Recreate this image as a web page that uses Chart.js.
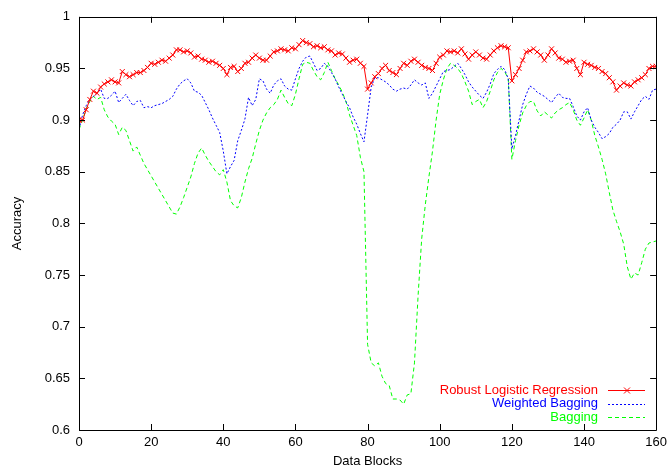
<!DOCTYPE html>
<html>
<head>
<meta charset="utf-8">
<script src="https://cdn.jsdelivr.net/npm/chart.js@4.4.1/dist/chart.umd.min.js"></script>
<style>
  html, body { margin: 0; padding: 0; background: #fff; }
  #wrap { width: 672px; height: 472px; position: relative; }
</style>
</head>
<body>
<div id="wrap"><canvas id="acc"></canvas></div>
<script>
// accuracy per data block (0..160)
var robustLR = [
  0.900, 0.900, 0.910, 0.920, 0.928, 0.926, 0.932, 0.935, 0.937, 0.939,
  0.937, 0.936, 0.947, 0.944, 0.942, 0.944, 0.946, 0.946, 0.948, 0.951,
  0.955, 0.954, 0.956, 0.958, 0.957, 0.960, 0.963, 0.968, 0.968, 0.966,
  0.967, 0.965, 0.961, 0.962, 0.959, 0.958, 0.956, 0.957, 0.955, 0.953,
  0.950, 0.944, 0.951, 0.952, 0.947, 0.950, 0.955, 0.956, 0.960, 0.963,
  0.960, 0.958, 0.958, 0.962, 0.966, 0.967, 0.969, 0.968, 0.967, 0.970,
  0.969, 0.973, 0.977, 0.975, 0.974, 0.971, 0.972, 0.970, 0.971, 0.968,
  0.967, 0.963, 0.965, 0.964, 0.960, 0.956, 0.958, 0.959, 0.955, 0.952,
  0.930, 0.936, 0.942, 0.945, 0.950, 0.953, 0.948, 0.946, 0.944, 0.950,
  0.955, 0.953, 0.957, 0.959, 0.956, 0.953, 0.951, 0.950, 0.948, 0.955,
  0.961, 0.963, 0.967, 0.966, 0.967, 0.965, 0.969, 0.964, 0.959, 0.963,
  0.966, 0.963, 0.960, 0.959, 0.963, 0.967, 0.970, 0.972, 0.971, 0.970,
  0.938, 0.944, 0.950, 0.958, 0.966, 0.967, 0.969, 0.966, 0.963, 0.958,
  0.963, 0.969, 0.965, 0.960, 0.959, 0.956, 0.957, 0.958, 0.950, 0.944,
  0.956, 0.954, 0.953, 0.951, 0.950, 0.947, 0.945, 0.941, 0.937, 0.929,
  0.933, 0.936, 0.934, 0.933, 0.937, 0.939, 0.941, 0.944, 0.950, 0.952,
  0.952
];
var weightedBagging = [
  0.891, 0.905, 0.914, 0.920, 0.923, 0.926, 0.930, 0.921, 0.921, 0.924,
  0.928, 0.917, 0.921, 0.925, 0.919, 0.914, 0.918, 0.919, 0.912, 0.913,
  0.912, 0.914, 0.915, 0.916, 0.918, 0.920, 0.923, 0.930, 0.935, 0.938,
  0.940, 0.936, 0.928, 0.927, 0.924, 0.917, 0.910, 0.902, 0.895, 0.888,
  0.870, 0.848, 0.855, 0.861, 0.880, 0.890, 0.901, 0.922, 0.914, 0.920,
  0.940, 0.938, 0.930, 0.926, 0.934, 0.938, 0.940, 0.933, 0.930, 0.929,
  0.940, 0.950, 0.957, 0.961, 0.962, 0.955, 0.948, 0.950, 0.955, 0.952,
  0.946, 0.940, 0.932, 0.925, 0.918, 0.912, 0.903, 0.896, 0.887, 0.879,
  0.905, 0.932, 0.941, 0.941, 0.939, 0.937, 0.934, 0.930, 0.928, 0.930,
  0.931, 0.930, 0.934, 0.939, 0.936, 0.934, 0.936, 0.921, 0.926, 0.933,
  0.940, 0.947, 0.948, 0.949, 0.952, 0.955, 0.950, 0.944, 0.937, 0.932,
  0.928, 0.924, 0.921, 0.927, 0.935, 0.945, 0.949, 0.952, 0.949, 0.940,
  0.872, 0.885, 0.900, 0.915, 0.925, 0.933, 0.931, 0.927, 0.925, 0.923,
  0.920, 0.917, 0.922, 0.926, 0.922, 0.921, 0.921, 0.913, 0.904, 0.900,
  0.908, 0.912, 0.900, 0.893, 0.888, 0.882, 0.884, 0.887, 0.893, 0.896,
  0.900, 0.908, 0.908, 0.901, 0.908, 0.914, 0.920, 0.923, 0.920, 0.929,
  0.930
];
var bagging = [
  0.891, 0.900, 0.911, 0.918, 0.923, 0.920, 0.922, 0.910, 0.903, 0.899,
  0.896, 0.886, 0.893, 0.890, 0.880, 0.870, 0.874, 0.866, 0.858, 0.852,
  0.846, 0.840, 0.834, 0.828, 0.822, 0.816, 0.810, 0.809, 0.816, 0.825,
  0.835, 0.845, 0.858, 0.868, 0.873, 0.866, 0.860, 0.855, 0.850, 0.847,
  0.852, 0.840, 0.822, 0.817, 0.815, 0.825, 0.840, 0.853, 0.863, 0.877,
  0.890, 0.900, 0.907, 0.912, 0.915, 0.920, 0.929, 0.922, 0.916, 0.914,
  0.925, 0.940, 0.954, 0.956, 0.955, 0.948, 0.942, 0.939, 0.946, 0.956,
  0.948, 0.940, 0.934, 0.927, 0.918, 0.905, 0.895, 0.885, 0.864, 0.850,
  0.683, 0.665, 0.662, 0.665, 0.652, 0.645, 0.643, 0.630, 0.630, 0.629,
  0.625, 0.634, 0.635, 0.665, 0.730, 0.785, 0.818, 0.845, 0.870, 0.900,
  0.925, 0.939, 0.950, 0.955, 0.953, 0.950, 0.945, 0.937, 0.928, 0.915,
  0.918, 0.920, 0.912, 0.918, 0.928, 0.939, 0.946, 0.950, 0.947, 0.940,
  0.862, 0.880, 0.895, 0.907, 0.914, 0.918, 0.918, 0.909, 0.904, 0.908,
  0.905, 0.902, 0.907, 0.910, 0.912, 0.915, 0.917, 0.910, 0.900, 0.895,
  0.902, 0.910, 0.900, 0.885, 0.874, 0.862, 0.848, 0.830, 0.813, 0.802,
  0.792, 0.780, 0.758, 0.746, 0.752, 0.750, 0.762, 0.775, 0.781, 0.782,
  0.783
];
var seriesNames = ['Robust Logistic Regression', 'Weighted Bagging', 'Bagging'];
var xTicks = [0, 20, 40, 60, 80, 100, 120, 140, 160];
var yTicks = [0.6, 0.65, 0.7, 0.75, 0.8, 0.85, 0.9, 0.95, 1];

function toPoints(arr) {
  return arr.map(function (v, i) { return { x: i, y: v }; });
}

var FONT = { family: '"Liberation Sans", Arial, sans-serif', size: 13 };

// gnuplot-style frame with inward ticks and the key in the lower right
var gnuplotFrame = {
  id: 'gnuplotFrame',
  afterDraw: function (chart) {
    var ctx = chart.ctx, a = chart.chartArea;
    var xs = chart.scales.x, ys = chart.scales.y;
    ctx.save();
    ctx.strokeStyle = '#000';
    ctx.lineWidth = 1;
    ctx.beginPath();
    ctx.rect(Math.round(a.left) + 0.5, Math.round(a.top) + 0.5,
             Math.round(a.right - a.left), Math.round(a.bottom - a.top));
    xTicks.forEach(function (t) {
      var px = Math.round(xs.getPixelForValue(t)) + 0.5;
      ctx.moveTo(px, a.bottom); ctx.lineTo(px, a.bottom - 6);
      ctx.moveTo(px, a.top); ctx.lineTo(px, a.top + 6);
    });
    yTicks.forEach(function (t) {
      var py = Math.round(ys.getPixelForValue(t)) + 0.5;
      ctx.moveTo(a.left, py); ctx.lineTo(a.left + 6, py);
      ctx.moveTo(a.right, py); ctx.lineTo(a.right - 6, py);
    });
    ctx.stroke();

    // key
    ctx.font = FONT.size + 'px ' + FONT.family;
    ctx.textAlign = 'right';
    ctx.textBaseline = 'middle';
    var rows = [390, 403.5, 417];
    chart.data.datasets.forEach(function (ds, i) {
      var y = rows[i];
      ctx.fillStyle = ds.borderColor;
      ctx.fillText(ds.label, 598, y);
      ctx.strokeStyle = ds.borderColor;
      ctx.setLineDash(ds.borderDash || []);
      ctx.beginPath();
      ctx.moveTo(608, Math.round(y) + 0.5);
      ctx.lineTo(645, Math.round(y) + 0.5);
      ctx.stroke();
      ctx.setLineDash([]);
      if (ds.pointRadius > 0) {
        var cx = 627, cy = Math.round(y) + 0.5, r = 3;
        ctx.beginPath();
        ctx.moveTo(cx - r, cy - r); ctx.lineTo(cx + r, cy + r);
        ctx.moveTo(cx - r, cy + r); ctx.lineTo(cx + r, cy - r);
        ctx.stroke();
      }
    });
    ctx.restore();
  }
};

var ctx = document.getElementById('acc').getContext('2d');
var chart = new Chart(ctx, {
  type: 'line',
  data: {
    datasets: [{
      label: seriesNames[0],
      data: toPoints(robustLR),
      borderColor: '#ff0000',
      backgroundColor: '#ff0000',
      borderWidth: 1,
      pointStyle: 'crossRot',
      pointRadius: 3.5,
      pointBorderWidth: 1,
      pointBorderColor: '#ff0000'
    }, {
      label: seriesNames[1],
      data: toPoints(weightedBagging),
      borderColor: '#0000ff',
      borderWidth: 1,
      borderDash: [2, 2],
      pointRadius: 0
    }, {
      label: seriesNames[2],
      data: toPoints(bagging),
      borderColor: '#00ff00',
      borderWidth: 1,
      borderDash: [4, 3],
      pointRadius: 0
    }]
  },
  options: {
    responsive: true,
    maintainAspectRatio: false,
    animation: false,
    layout: { padding: { top: 9, right: 12, left: 0, bottom: 0 } },
    plugins: {
      legend: { display: false },
      tooltip: { enabled: false }
    },
    elements: { line: { tension: 0, fill: false } },
    scales: {
      x: {
        type: 'linear',
        min: 0,
        max: 160,
        afterBuildTicks: function (s) { s.ticks = xTicks.map(function (v) { return { value: v }; }); },
        afterFit: function (s) { s.height = 42; },
        grid: { display: false, drawTicks: false },
        border: { display: false },
        ticks: { color: '#000', font: FONT, padding: 5, maxRotation: 0 },
        title: { display: true, text: 'Data Blocks', color: '#000', font: FONT, padding: { top: 0, bottom: 3 } }
      },
      y: {
        type: 'linear',
        min: 0.6,
        max: 1,
        afterBuildTicks: function (s) { s.ticks = yTicks.map(function (v) { return { value: v }; }); },
        afterFit: function (s) { s.width = 79; },
        grid: { display: false, drawTicks: false },
        border: { display: false },
        ticks: {
          color: '#000', font: FONT, padding: 9,
          callback: function (v) { return String(+v.toFixed(2)); }
        },
        title: { display: true, text: 'Accuracy', color: '#000', font: FONT, padding: { top: 10, bottom: 0 } }
      }
    }
  },
  plugins: [gnuplotFrame]
});
</script>
</body>
</html>
